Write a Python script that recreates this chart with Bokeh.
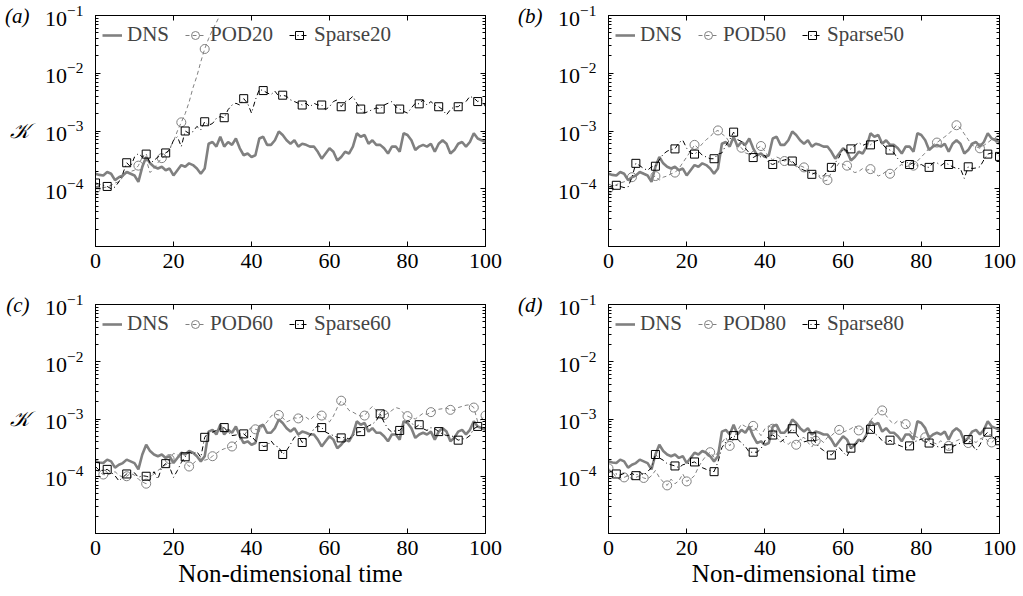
import numpy as np
from bokeh.plotting import figure
from bokeh.layouts import column, row
from bokeh.models import (FixedTicker, LinearAxis, Legend,
                          LegendItem, Range1d, CustomJSTickFormatter)
from bokeh.embed import file_html
from bokeh.resources import INLINE

# ---------------- data (log10 of K) ----------------
t = list(range(101))

dns_log = [-3.74, -3.76, -3.77, -3.71, -3.74, -3.85, -3.80, -3.77, -3.71, -3.74,
           -3.77, -3.88, -3.62, -3.45, -3.56, -3.62, -3.65, -3.62, -3.68, -3.65,
           -3.77, -3.68, -3.59, -3.62, -3.56, -3.59, -3.65, -3.74, -3.65, -3.22,
           -3.19, -3.27, -3.10, -3.27, -3.19, -3.24, -3.13, -3.30, -3.42, -3.39,
           -3.45, -3.42, -3.13, -3.10, -3.24, -3.24, -3.16, -3.01, -3.07, -3.16,
           -3.22, -3.16, -3.27, -3.22, -3.24, -3.27, -3.27, -3.36, -3.48, -3.39,
           -3.30, -3.36, -3.51, -3.45, -3.36, -3.39, -3.27, -3.04, -3.10, -3.07,
           -3.22, -3.16, -3.24, -3.24, -3.30, -3.39, -3.27, -3.27, -3.36, -3.04,
           -3.07, -3.16, -3.33, -3.27, -3.24, -3.27, -3.22, -3.36, -3.22, -3.16,
           -3.22, -3.39, -3.33, -3.22, -3.19, -3.27, -3.19, -3.04, -3.13, -3.16,
           -3.19]

# panel (a)
pod20_t = list(range(35))
pod20_log = [-4.00, -4.00, -3.98, -3.97, -3.94, -3.90, -3.88, -3.80, -3.72, -3.70,
             -3.68, -3.60, -3.45, -3.50, -3.72, -3.65, -3.55, -3.47, -3.42, -3.30,
             -3.18, -3.00, -2.85, -2.70, -2.50, -2.25, -2.05, -1.80, -1.58, -1.40,
             -1.25, -1.12, -0.98, -0.85, -0.72]
pod20_marks = [0, 11, 17, 22, 28]
sparse20_log = [-3.90, -3.92, -3.94, -3.96, -4.00, -3.97, -3.88, -3.74, -3.55, -3.62,
                -3.45, -3.39, -3.45, -3.40, -3.56, -3.51, -3.45, -3.42, -3.38, -3.33,
                -3.16, -3.10, -3.27, -3.00, -3.04, -3.01, -2.92, -2.98, -2.84, -2.90,
                -2.87, -2.78, -2.75, -2.77, -2.63, -2.55, -2.52, -2.55, -2.44, -2.52,
                -2.69, -2.46, -2.28, -2.30, -2.34, -2.37, -2.31, -2.40, -2.38, -2.40,
                -2.46, -2.49, -2.52, -2.55, -2.52, -2.58, -2.52, -2.55, -2.55, -2.63,
                -2.58, -2.49, -2.46, -2.58, -2.49, -2.46, -2.40, -2.52, -2.62, -2.69,
                -2.66, -2.63, -2.60, -2.62, -2.55, -2.52, -2.49, -2.58, -2.62, -2.66,
                -2.69, -2.60, -2.52, -2.53, -2.46, -2.55, -2.49, -2.55, -2.58, -2.63,
                -2.72, -2.63, -2.58, -2.58, -2.52, -2.49, -2.40, -2.43, -2.49, -2.46,
                -2.58]
sparse20_marks = [0, 3, 8, 13, 18, 23, 28, 33, 38, 43, 48, 53, 58, 63, 68, 73, 78, 83, 88, 93, 98]

# panel (b)
pod50_log = [-4.00, -3.97, -3.93, -3.90, -3.88, -3.85, -3.80, -3.78, -3.72, -3.72,
             -3.78, -3.81, -3.78, -3.85, -3.80, -3.78, -3.74, -3.72, -3.65, -3.55,
             -3.45, -3.35, -3.24, -3.30, -3.22, -3.15, -3.10, -3.02, -2.99, -3.05,
             -3.10, -3.20, -3.15, -3.25, -3.29, -3.38, -3.40, -3.35, -3.30, -3.26,
             -3.35, -3.45, -3.50, -3.45, -3.48, -3.52, -3.50, -3.55, -3.62, -3.60,
             -3.63, -3.68, -3.72, -3.75, -3.80, -3.87, -3.85, -3.72, -3.65, -3.55,
             -3.58, -3.60, -3.68, -3.72, -3.70, -3.65, -3.68, -3.66, -3.72, -3.78,
             -3.75, -3.70, -3.74, -3.70, -3.62, -3.58, -3.62, -3.60, -3.60, -3.52,
             -3.45, -3.38, -3.30, -3.24, -3.20, -3.15, -3.10, -3.05, -2.98, -2.90,
             -2.95, -3.05, -3.15, -3.25, -3.27, -3.30, -3.25, -3.20, -3.15, -3.12,
             -3.15]
pod50_marks = [0, 6, 12, 17, 22, 28, 34, 39, 45, 50, 56, 61, 67, 72, 78, 84, 89, 95, 100]
sparse50_log = [-3.97, -3.95, -3.94, -3.96, -3.98, -3.97, -3.80, -3.56, -3.60, -3.65,
                -3.68, -3.62, -3.61, -3.50, -3.40, -3.35, -3.32, -3.31, -3.20, -3.16,
                -3.30, -3.38, -3.40, -3.35, -3.42, -3.45, -3.48, -3.48, -3.40, -3.38,
                -3.25, -3.15, -3.02, -3.15, -3.18, -3.30, -3.38, -3.46, -3.42, -3.45,
                -3.42, -3.55, -3.58, -3.55, -3.52, -3.50, -3.48, -3.52, -3.60, -3.65,
                -3.68, -3.70, -3.75, -3.72, -3.78, -3.78, -3.70, -3.63, -3.55, -3.45,
                -3.30, -3.35, -3.31, -3.25, -3.20, -3.25, -3.22, -3.24, -3.18, -3.16,
                -3.22, -3.30, -3.33, -3.38, -3.48, -3.55, -3.52, -3.58, -3.55, -3.60,
                -3.58, -3.62, -3.63, -3.55, -3.55, -3.60, -3.55, -3.58, -3.62, -3.65,
                -3.65, -3.82, -3.62, -3.65, -3.64, -3.62, -3.50, -3.40, -3.38, -3.40,
                -3.44]
sparse50_marks = [2, 7, 12, 17, 22, 27, 32, 37, 42, 47, 52, 57, 62, 67, 72, 77, 82, 87, 92, 97, 100]

# panel (c)
pod60_log = [-3.88, -3.93, -3.97, -3.98, -3.95, -3.92, -3.98, -4.02, -4.00, -3.95,
             -3.98, -4.05, -4.10, -4.13, -4.05, -3.95, -3.90, -3.85, -3.80, -3.70,
             -3.60, -3.62, -3.70, -3.75, -3.83, -3.78, -3.72, -3.68, -3.72, -3.70,
             -3.65, -3.60, -3.55, -3.52, -3.50, -3.48, -3.40, -3.35, -3.30, -3.20,
             -3.15, -3.18, -3.20, -3.12, -3.05, -2.95, -2.91, -2.93, -2.98, -3.05,
             -3.02, -2.98, -2.99, -2.95, -2.97, -3.02, -2.95, -2.92, -2.94, -3.00,
             -3.05, -2.95, -2.80, -2.68, -2.75, -2.85, -2.88, -2.92, -2.95, -2.94,
             -2.85, -2.78, -2.85, -2.95, -2.93, -2.90, -2.85, -2.80, -2.82, -2.90,
             -2.95, -2.98, -3.00, -2.95, -2.90, -2.92, -2.88, -2.85, -2.83, -2.82,
             -2.81, -2.84, -2.85, -2.80, -2.78, -2.76, -2.75, -2.80, -3.05, -3.00,
             -2.94]
pod60_marks = [2, 8, 13, 19, 24, 30, 35, 41, 47, 52, 58, 63, 69, 74, 80, 86, 91, 97, 100]
sparse60_log = [-3.83, -3.90, -3.90, -3.88, -3.93, -3.99, -4.08, -4.02, -3.96, -3.93,
                -3.94, -4.02, -3.99, -4.00, -4.02, -3.92, -4.05, -3.84, -3.78, -3.84,
                -4.02, -3.90, -3.76, -3.66, -3.58, -3.61, -3.57, -3.67, -3.32, -3.23,
                -3.23, -3.20, -3.17, -3.15, -3.23, -3.29, -3.28, -3.26, -3.26, -3.32,
                -3.30, -3.38, -3.41, -3.48, -3.47, -3.38, -3.47, -3.49, -3.62, -3.55,
                -3.44, -3.32, -3.29, -3.41, -3.35, -3.29, -3.17, -3.12, -3.15, -3.23,
                -3.26, -3.29, -3.32, -3.33, -3.32, -3.35, -3.30, -3.23, -3.22, -3.17,
                -3.12, -3.09, -3.03, -2.91, -3.06, -3.17, -3.23, -3.20, -3.20, -3.12,
                -3.03, -3.06, -3.15, -3.10, -3.17, -3.20, -3.15, -3.17, -3.22, -3.26,
                -3.29, -3.28, -3.32, -3.37, -3.35, -3.34, -3.29, -3.17, -3.13, -3.15,
                -3.17]
sparse60_marks = [0, 3, 8, 13, 18, 23, 28, 33, 38, 43, 48, 53, 58, 63, 68, 73, 78, 83, 88, 93, 98]

# panel (d)
pod80_log = [-3.86, -3.93, -4.02, -4.06, -4.02, -3.99, -4.05, -4.02, -3.99, -4.03,
             -4.05, -3.99, -3.90, -4.02, -4.10, -4.16, -4.05, -4.13, -4.08, -3.96,
             -4.09, -4.05, -3.99, -3.84, -3.73, -3.64, -3.58, -3.67, -3.58, -3.41,
             -3.32, -3.47, -3.35, -3.20, -3.09, -3.13, -3.15, -3.12, -3.20, -3.29,
             -3.17, -3.12, -3.17, -3.26, -3.32, -3.41, -3.44, -3.38, -3.45, -3.35,
             -3.32, -3.41, -3.49, -3.38, -3.35, -3.41, -3.32, -3.29, -3.23, -3.19,
             -3.23, -3.20, -3.17, -3.12, -3.20, -3.17, -3.12, -3.03, -2.94, -2.88,
             -2.85, -2.94, -3.03, -3.09, -3.03, -3.06, -3.09, -3.20, -3.29, -3.32,
             -3.35, -3.32, -3.38, -3.41, -3.44, -3.38, -3.44, -3.47, -3.41, -3.38,
             -3.35, -3.41, -3.42, -3.38, -3.41, -3.35, -3.32, -3.38, -3.41, -3.35,
             -3.32]
pod80_marks = [0, 4, 9, 15, 20, 26, 31, 37, 42, 48, 53, 59, 64, 70, 76, 81, 87, 92, 98]
sparse80_log = [-3.90, -3.93, -3.96, -3.98, -3.95, -4.00, -3.95, -3.99, -3.92, -3.98,
                -3.92, -3.85, -3.62, -3.68, -3.72, -3.78, -3.80, -3.82, -3.85, -3.80,
                -3.78, -3.77, -3.75, -3.80, -3.85, -3.88, -3.90, -3.92, -3.75, -3.50,
                -3.40, -3.35, -3.29, -3.35, -3.42, -3.48, -3.58, -3.58, -3.58, -3.52,
                -3.38, -3.30, -3.28, -3.33, -3.40, -3.35, -3.25, -3.17, -3.25, -3.35,
                -3.40, -3.38, -3.31, -3.42, -3.50, -3.55, -3.60, -3.63, -3.55, -3.50,
                -3.58, -3.65, -3.51, -3.45, -3.40, -3.38, -3.30, -3.18, -3.25, -3.30,
                -3.38, -3.42, -3.37, -3.42, -3.45, -3.48, -3.50, -3.47, -3.40, -3.38,
                -3.35, -3.40, -3.42, -3.45, -3.48, -3.50, -3.48, -3.52, -3.48, -3.45,
                -3.42, -3.40, -3.36, -3.45, -3.55, -3.45, -3.30, -3.23, -3.30, -3.35,
                -3.38]
sparse80_marks = [2, 7, 12, 17, 22, 27, 32, 37, 42, 47, 52, 57, 62, 67, 72, 77, 82, 87, 92, 97, 100]

x_ticks = [0, 20, 40, 60, 80, 100]
y_major = [1e-4, 1e-3, 1e-2, 1e-1]
x_title = "Non-dimensional time"
k_symbol = "\U0001D4A6"

FONT = "'Liberation Serif'"
GREY = "#808080"


def panel(letter, n, pod_t, pod_log, pod_marks, sp_log, sp_marks,
          width, height, b_left, frame_w, b_top, frame_h, show_k, show_xlabel):
    p = figure(width=width, height=height, y_axis_type="log",
               x_range=Range1d(0, 100), y_range=Range1d(1e-5, 1e-1),
               output_backend="svg", toolbar_location=None,
               min_border_left=b_left, min_border_right=width - b_left - frame_w,
               min_border_top=b_top, min_border_bottom=height - b_top - frame_h)
    p.xgrid.visible = False
    p.ygrid.visible = False
    p.outline_line_color = "black"
    p.outline_line_width = 1
    p.background_fill_color = "white"
    p.border_fill_color = "white"

    minor = [k * 10.0 ** e for e in range(-5, -1) for k in range(2, 10)]

    xb = p.xaxis[0]
    yl = p.yaxis[0]
    xb.ticker = FixedTicker(ticks=x_ticks)
    yl.ticker = FixedTicker(ticks=y_major, minor_ticks=minor)

    top = LinearAxis(ticker=FixedTicker(ticks=x_ticks),
                     formatter=CustomJSTickFormatter(code="return ''"))
    right = LinearAxis(ticker=FixedTicker(ticks=y_major, minor_ticks=minor),
                       formatter=CustomJSTickFormatter(code="return ''"))
    p.add_layout(top, "above")
    p.add_layout(right, "right")

    # outer left axis carrying the panel letter and the K symbol
    marks = [1e-1, 1e-3] if show_k else [1e-1]
    tag = LinearAxis(ticker=FixedTicker(ticks=marks),
                     formatter=CustomJSTickFormatter(
                         args=dict(letter="(%s)" % letter, k=k_symbol),
                         code="return tick > 0.01 ? letter : k;"))
    tag.axis_line_color = None
    tag.major_tick_line_color = None
    tag.minor_tick_line_color = None
    tag.major_tick_in = 0
    tag.major_tick_out = 0
    tag.minor_tick_in = 0
    tag.minor_tick_out = 0
    tag.major_label_text_font = FONT
    tag.major_label_text_font_style = "italic"
    tag.major_label_text_font_size = "21px"
    tag.major_label_text_color = "black"
    tag.major_label_standoff = 13
    p.add_layout(tag, "left")

    for ax in [xb, top]:
        ax.major_tick_in = 5
        ax.major_tick_out = 0
        ax.minor_tick_in = 0
        ax.minor_tick_out = 0
    for ax in [yl, right]:
        ax.major_tick_in = 5
        ax.major_tick_out = 0
        ax.minor_tick_in = 3
        ax.minor_tick_out = 0
    for ax in [xb, yl, top, right]:
        ax.axis_line_color = "black"
        ax.major_tick_line_color = "black"
        ax.minor_tick_line_color = "black"
        ax.major_label_text_font = FONT
        ax.major_label_text_font_size = "22px"
        ax.major_label_text_color = "black"
    for ax in [top, right]:
        ax.major_label_text_font_size = "2px"
        ax.major_label_standoff = 0
    xb.major_label_standoff = 7
    yl.major_label_standoff = 12

    if show_xlabel:
        xb.axis_label = x_title
        xb.axis_label_text_font = FONT
        xb.axis_label_text_font_style = "normal"
        xb.axis_label_text_font_size = "25px"
        xb.axis_label_text_color = "black"
        xb.axis_label_standoff = 2

    K_dns = 10.0 ** np.array(dns_log)
    r_dns = p.line(t, K_dns, line_color=GREY, line_width=2.6)

    K_pod = 10.0 ** np.array(pod_log)
    r_pod = p.line(pod_t, K_pod, line_color=GREY, line_width=1, line_dash="4 3")
    pm_y = [K_pod[pod_t.index(m)] for m in pod_marks]
    r_podm = p.scatter(pod_marks, pm_y, marker="circle", size=9,
                       line_color=GREY, fill_color=None, line_width=1)

    K_sp = 10.0 ** np.array(sp_log)
    r_sp = p.line(t, K_sp, line_color="black", line_width=1, line_dash="5 3 1 3")
    sm_y = [K_sp[t.index(m)] for m in sp_marks]
    r_spm = p.scatter(sp_marks, sm_y, marker="square", size=8,
                      line_color="black", fill_color=None, line_width=1)

    legend = Legend(items=[LegendItem(label="DNS", renderers=[r_dns]),
                           LegendItem(label="POD%d" % n, renderers=[r_pod, r_podm]),
                           LegendItem(label="Sparse%d" % n, renderers=[r_sp, r_spm])],
                    orientation="horizontal", location="top_left",
                    border_line_alpha=0, background_fill_alpha=0,
                    label_text_font=FONT, label_text_font_size="21px",
                    glyph_width=20, glyph_height=20, label_standoff=5, spacing=16,
                    padding=2, margin=5)
    p.add_layout(legend)
    return p


pa = panel("a", 20, pod20_t, pod20_log, pod20_marks, sparse20_log, sparse20_marks,
           510, 290, 95, 390, 15, 231, True, False)
pb = panel("b", 50, t, pod50_log, pod50_marks, sparse50_log, sparse50_marks,
           513, 290, 98, 391, 15, 231, False, False)
pc = panel("c", 60, t, pod60_log, pod60_marks, sparse60_log, sparse60_marks,
           510, 306, 95, 390, 14, 229, True, True)
pd = panel("d", 80, t, pod80_log, pod80_marks, sparse80_log, sparse80_marks,
           513, 306, 98, 391, 14, 229, False, True)

layout = column(row(pa, pb), row(pc, pd))
open("out.html", "w").write(file_html(layout, INLINE))
